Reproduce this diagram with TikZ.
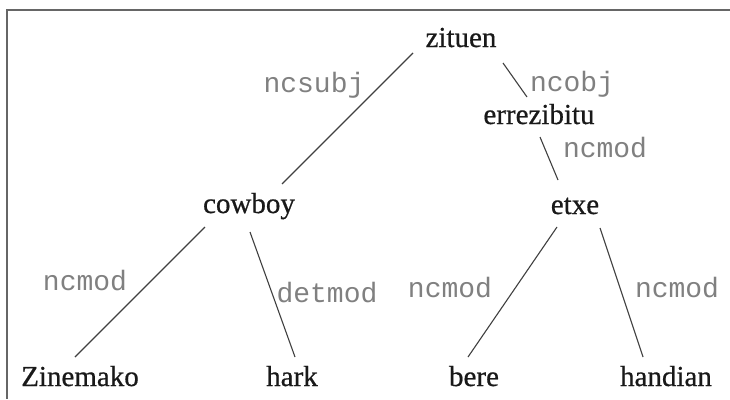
\documentclass[tikz,border=0pt]{standalone}
\usepackage{fontspec}
\setmainfont{Liberation Serif}[FakeBold=0.6]
\newfontfamily\relfont{Liberation Mono}
\usetikzlibrary{calc}
\begin{document}
\begin{tikzpicture}[x=1pt,y=-1pt,
  word/.style={anchor=base, inner sep=0pt, text=black!90, font=\fontsize{29}{31}\selectfont},
  rel/.style={anchor=base, inner sep=0pt, text=black!50, font=\relfont\fontsize{28}{30}\selectfont},
  edge/.style={draw=black!75, line width=1.1pt}]
\useasboundingbox (0,0) rectangle (730,399);
\fill[white] (0,0) rectangle (730,399);
% frame: top and left rules
\draw[black!60, line width=1.2pt] (730,10) -- (7,10) -- (7,399);

% words of the dependency tree
\node[word] (zituen)     at (461,47)  {zituen};
\node[word] (errezibitu) at (539,124) {errezibitu};
\node[word] (cowboy)     at (249,213) {cowboy};
\node[word] (etxe)       at (575,214) {etxe};
\node[word] (zinemako)   at (80,386)  {Zinemako};
\node[word] (hark)       at (292,386) {hark};
\node[word] (bere)       at (474,386) {bere};
\node[word] (handian)    at (666,386) {handian};

% dependency relations
\draw[edge] ($(zituen.base)+(-48,6)$)     -- ($(cowboy.base)+(33,-29)$);
\draw[edge] ($(zituen.base)+(42,16)$)     -- ($(errezibitu.base)+(-12,-27)$);
\draw[edge] ($(errezibitu.base)+(1,13)$)  -- ($(etxe.base)+(-17,-34)$);
\draw[edge] ($(cowboy.base)+(-44,14)$)    -- ($(zinemako.base)+(-5,-29)$);
\draw[edge] ($(cowboy.base)+(1,19)$)      -- ($(hark.base)+(3,-29)$);
\draw[edge] ($(etxe.base)+(-18,13)$)      -- ($(bere.base)+(-6,-29)$);
\draw[edge] ($(etxe.base)+(25,14)$)       -- ($(handian.base)+(-23,-29)$);

% relation labels
\node[rel] (l-ncsubj)  at (314,92)  {ncsubj};
\node[rel] (l-ncobj)   at (572,91)  {ncobj};
\node[rel] (l-ncmod1)  at (605,157) {ncmod};
\node[rel] (l-ncmod2)  at (85,290)  {ncmod};
\node[rel] (l-detmod)  at (327,302) {detmod};
\node[rel] (l-ncmod3)  at (450,297) {ncmod};
\node[rel] (l-ncmod4)  at (677,297) {ncmod};
\end{tikzpicture}
\end{document}
